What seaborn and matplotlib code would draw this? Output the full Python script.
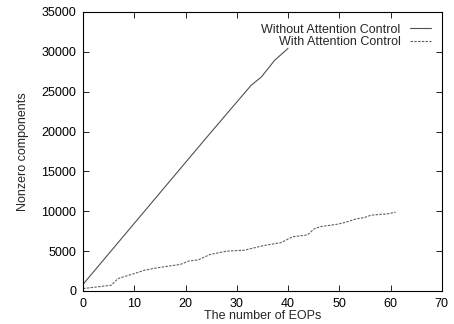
import numpy as np
import pandas as pd
import matplotlib
matplotlib.use("Agg")
import matplotlib.pyplot as plt
import seaborn as sns

# Data
x_without = [0, 10.5, 23.7, 28.8, 32.8, 34.8, 37.4, 39.6, 40]
y_without = [840, 8870, 18950, 22800, 25800, 26850, 28950, 30200, 30450]

x_with = [0, 2.6, 5.5, 6.8, 10, 12, 14.6, 19, 20.6, 22.5, 24.8, 28.1, 31.4, 33.3, 35.3,
          38.6, 40.9, 43.8, 45.1, 46.4, 49.7, 51, 53.3, 54.9, 56.2, 59.4, 61]
y_with = [300, 500, 715, 1550, 2180, 2600, 2920, 3330, 3750, 3900, 4580, 5000, 5100, 5400, 5700,
          6050, 6800, 7030, 7790, 8080, 8380, 8580, 9040, 9210, 9510, 9670, 9880]

labels = ["Without Attention Control", "With Attention Control"]
xticks = [0, 10, 20, 30, 40, 50, 60, 70]
yticks = [0, 5000, 10000, 15000, 20000, 25000, 30000, 35000]

df = pd.concat([
    pd.DataFrame({"x": x_without, "y": y_without, "series": labels[0]}),
    pd.DataFrame({"x": x_with, "y": y_with, "series": labels[1]}),
])

sns.set_style("ticks")
plt.rcParams['font.family'] = ['Liberation Sans', 'DejaVu Sans']

fig = plt.figure(figsize=(4.54, 3.24), dpi=100)
ax = fig.add_axes([0.183, 0.102, 0.79, 0.861])

sns.lineplot(data=df, x="x", y="y", hue="series", style="series",
             palette={labels[0]: "#505050", labels[1]: "#606060"},
             dashes={labels[0]: "", labels[1]: (2.2, 1.2)},
             linewidth=0.8, ax=ax, sort=False, estimator=None)

ax.set_xlim(0, 70)
ax.set_ylim(0, 35000)
ax.set_xticks(xticks)
ax.set_yticks(yticks)
ax.tick_params(direction="in", top=True, right=True, labelsize=9, length=4, width=0.6, pad=5, colors="black")
for s in ax.spines.values():
    s.set_linewidth(0.8)
    s.set_color("black")
    s.set_visible(True)
ax.set_xlabel("The number of EOPs", fontsize=9, labelpad=0)
ax.set_ylabel("Nonzero components", fontsize=9, labelpad=9)

handles, labs = ax.get_legend_handles_labels()
leg = ax.legend(handles, labs, loc="upper right", markerfirst=False, frameon=False,
                fontsize=9, handlelength=1.7, handletextpad=0.75, labelspacing=0.05,
                borderaxespad=0.3, bbox_to_anchor=(0.995, 0.99))
for t in leg.get_texts():
    t.set_ha("right")
leg._legend_box.align = "right"

fig.savefig("out.png", dpi=100)
